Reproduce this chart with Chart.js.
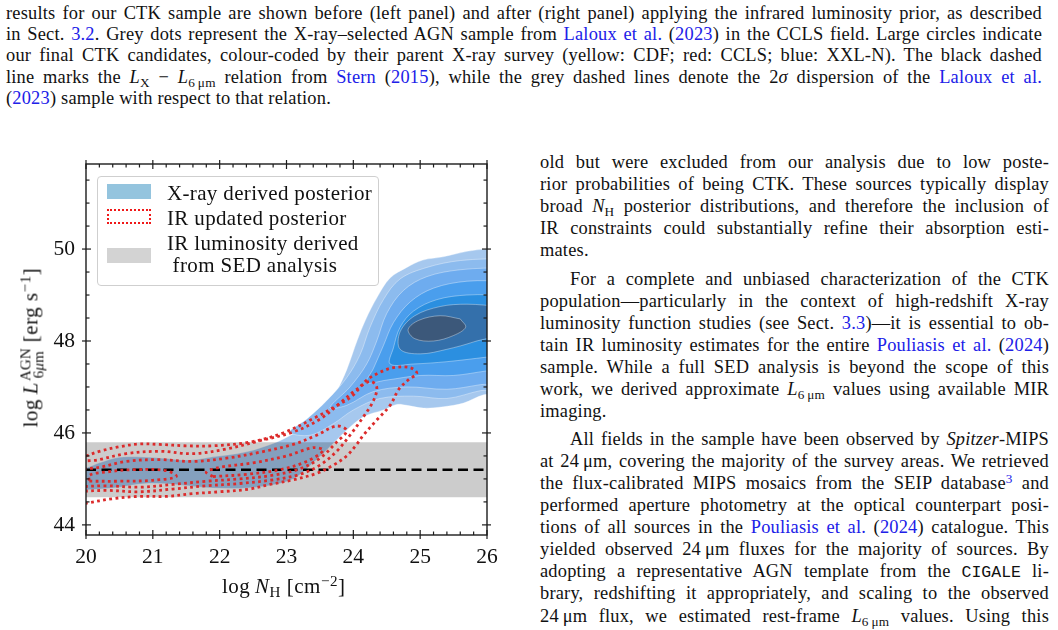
<!DOCTYPE html>
<html>
<head>
<meta charset="utf-8">
<script src="https://cdn.jsdelivr.net/npm/chart.js@4.4.1/dist/chart.umd.min.js"></script>
<style>
  html, body { margin: 0; padding: 0; background: #fff; }
  #page { position: relative; width: 1058px; height: 630px; overflow: hidden;
          font-family: "Liberation Serif", "Times New Roman", serif; color: #111; }
  .ln { position: absolute; font-size: 18.4px; line-height: 22px; height: 22px; white-space: nowrap;
        letter-spacing: 0.2px; text-align: justify; text-align-last: justify; }
  .ln.last { text-align-last: left; }
  .cap { left: 6px; width: 1036px; }
  .col { left: 540px; width: 509px; }
  .col.ind { left: 570px; width: 479px; }
  .a { color: #2020e8; }
  .sb { font-size: 0.72em; position: relative; top: 0.28em; }
  .sp { font-size: 0.72em; position: relative; top: -0.45em; }
  .tt { font-family: "Liberation Mono", monospace; font-size: 16.5px; letter-spacing: 0; }
  #chart { position: absolute; left: 0; top: 140px; }
  #legend { position: absolute; left: 97px; top: 176px; width: 280px; height: 108px;
            border: 1px solid #cfcfcf; border-radius: 4px; background: rgba(255,255,255,0.85);
            font-size: 21px; letter-spacing: 0.35px; }
  #legend .sw { position: absolute; left: 9px; width: 44px; height: 15px; box-sizing: border-box; }
  #legend .tx { position: absolute; left: 69px; line-height: 22px; white-space: nowrap; }
  .axt { position: absolute; font-size: 21px; letter-spacing: 0.5px; white-space: nowrap; line-height: 24px; }
  .stk { display: inline-flex; flex-direction: column; vertical-align: middle;
         font-size: 15px; line-height: 13px; margin-left: 1px; letter-spacing: 0.2px; }
</style>
</head>
<body>
<div id="page">
  <div class="ln cap" style="top:2px">results for our CTK sample are shown before (left panel) and after (right panel) applying the infrared luminosity prior, as described</div>
  <div class="ln cap" style="top:23px">in Sect. <span class="a">3.2</span>. Grey dots represent the X-ray–selected AGN sample from <span class="a">Laloux et al.</span> (<span class="a">2023</span>) in the CCLS field. Large circles indicate</div>
  <div class="ln cap" style="top:44px">our final CTK candidates, colour-coded by their parent X-ray survey (yellow: CDF; red: CCLS; blue: XXL-N). The black dashed</div>
  <div class="ln cap" style="top:66px">line marks the <i>L</i><span class="sb">X</span> − <i>L</i><span class="sb">6&#8201;μm</span> relation from <span class="a">Stern</span> (<span class="a">2015</span>), while the grey dashed lines denote the 2<i>σ</i> dispersion of the <span class="a">Laloux et al.</span></div>
  <div class="ln cap last" style="top:87px">(<span class="a">2023</span>) sample with respect to that relation.</div>

  <div class="ln col" style="top:151px">old but were excluded from our analysis due to low poste-</div>
  <div class="ln col" style="top:173px">rior probabilities of being CTK. These sources typically display</div>
  <div class="ln col" style="top:195px">broad <i>N</i><span class="sb">H</span> posterior distributions, and therefore the inclusion of</div>
  <div class="ln col" style="top:217px">IR constraints could substantially refine their absorption esti-</div>
  <div class="ln col last" style="top:239px">mates.</div>
  <div class="ln col ind" style="top:268px">For a complete and unbiased characterization of the CTK</div>
  <div class="ln col" style="top:290px">population—particularly in the context of high-redshift X-ray</div>
  <div class="ln col" style="top:312px">luminosity function studies (see Sect. <span class="a">3.3</span>)—it is essential to ob-</div>
  <div class="ln col" style="top:334px">tain IR luminosity estimates for the entire <span class="a">Pouliasis et al.</span> (<span class="a">2024</span>)</div>
  <div class="ln col" style="top:356px">sample. While a full SED analysis is beyond the scope of this</div>
  <div class="ln col" style="top:378px">work, we derived approximate <i>L</i><span class="sb">6&#8201;μm</span> values using available MIR</div>
  <div class="ln col last" style="top:400px">imaging.</div>
  <div class="ln col ind" style="top:428px">All fields in the sample have been observed by <i>Spitzer</i>-MIPS</div>
  <div class="ln col" style="top:450px">at 24&#8201;μm, covering the majority of the survey areas. We retrieved</div>
  <div class="ln col" style="top:472px">the flux-calibrated MIPS mosaics from the SEIP database<span class="sp a">3</span> and</div>
  <div class="ln col" style="top:494px">performed aperture photometry at the optical counterpart posi-</div>
  <div class="ln col" style="top:516px">tions of all sources in the <span class="a">Pouliasis et al.</span> (<span class="a">2024</span>) catalogue. This</div>
  <div class="ln col" style="top:538px">yielded observed 24&#8201;μm fluxes for the majority of sources. By</div>
  <div class="ln col" style="top:560px">adopting a representative AGN template from the <span class="tt">CIGALE</span> li-</div>
  <div class="ln col" style="top:582px">brary, redshifting it appropriately, and scaling to the observed</div>
  <div class="ln col" style="top:605px">24&#8201;μm flux, we estimated rest-frame <i>L</i><span class="sb">6&#8201;μm</span> values. Using this</div>
  <div class="ln col" style="top:627px">method we derived IR luminosity estimates for 574 out of 911</div>

  <canvas id="chart" width="510" height="490"></canvas>

  <div id="legend">
    <div class="sw" style="top:7px;background:#94c4de"></div>
    <div class="tx" style="top:5px">X-ray derived posterior</div>
    <div class="sw" style="top:32px;border:2.5px dotted #f01818"></div>
    <div class="tx" style="top:30px">IR updated posterior</div>
    <div class="sw" style="top:71px;background:#d3d3d3"></div>
    <div class="tx" style="top:55px">IR luminosity derived</div>
    <div class="tx" style="top:77px">&nbsp;from SED analysis</div>
  </div>

  <div class="axt" style="left:222px;top:574px">log&#8201;<i>N</i><span class="sb">H</span> [cm<span class="sp">−2</span>]</div>
  <div class="axt" style="left:-68px;top:334px;width:200px;text-align:center;transform:rotate(-90deg)">log&#8201;<i>L</i><span class="stk"><span>AGN</span><span>6<i>μ</i>m</span></span> [erg s<span class="sp">−1</span>]</div>
</div>

<script>
// axes
const xTicks = [20, 21, 22, 23, 24, 25, 26];
const yTicks = [44, 46, 48, 50];
const xMin = 20, xMax = 26;
const yMin = 43.78, yMax = 51.85;

// SED band and Stern relation
const sedBand = [44.6, 45.8];
const sternY = 45.2;

// X-ray posterior, filled density levels (outer -> inner), [logNH, logL]
const blueL1 = [[19.8,45.2],[20.0,45.24],[20.2,45.35],[20.5,45.47],[20.76,45.48],[21.15,45.45],[21.56,45.41],[21.9,45.48],
  [22.4,45.59],[22.85,45.8],[23.1,45.98],[23.35,46.2],[23.6,46.5],[23.76,46.93],[23.9,47.37],[24.06,48.02],[24.18,48.45],
  [24.36,48.96],[24.55,49.37],[24.8,49.6],[25.04,49.76],[25.34,49.83],[25.7,49.95],[26.0,50.0],[26.3,50.0],[26.3,46.9],
  [25.95,46.83],[25.65,46.65],[25.35,46.57],[25.05,46.54],[24.8,46.6],[24.65,46.62],[24.45,46.5],[24.15,46.35],[23.9,46.06],
  [23.65,45.7],[23.4,45.35],[23.15,45.04],[22.9,44.9],[22.4,44.8],[21.9,44.8],[21.4,44.87],[20.9,44.9],[20.4,44.8],[20.0,44.76],[19.8,44.74]];
const blueL2 = [[26.3,49.8],[25.6,49.75],[25.1,49.6],[24.7,49.35],[24.45,48.9],[24.25,48.3],[24.1,47.7],[23.9,47.2],[23.6,46.7],
  [23.3,46.3],[23.05,46.02],[23.35,45.95],[23.7,46.2],[24.0,46.5],[24.4,46.75],[24.9,46.8],[25.4,46.75],[25.9,46.92],[26.3,47.0]];
const blueL3 = [[26.3,49.6],[25.6,49.55],[25.1,49.4],[24.75,49.1],[24.5,48.6],[24.35,48.0],[24.2,47.5],[23.95,47.0],[23.65,46.55],
  [23.9,46.6],[24.3,46.9],[24.8,47.0],[25.4,46.95],[25.9,47.05],[26.3,47.15]];
const blueL4 = [[26.3,49.3],[25.7,49.3],[25.2,49.15],[24.85,48.85],[24.6,48.4],[24.45,47.9],[24.3,47.4],[24.2,47.1],[24.5,47.15],
  [25.0,47.25],[25.5,47.25],[26.0,47.35],[26.3,47.4]];
const blueL5 = [[26.3,49.0],[25.7,49.0],[25.25,48.9],[24.9,48.65],[24.7,48.3],[24.6,47.85],[24.55,47.5],[24.9,47.5],[25.4,47.55],
  [26.0,47.65],[26.3,47.7]];
const blueL6 = [[26.2,48.75],[25.7,48.8],[25.3,48.75],[24.92,48.55],[24.7,48.2],[24.7,47.82],[25.0,47.72],[25.4,47.82],[25.8,47.98],[26.2,48.2]];
const blueL7 = [[25.6,48.48],[25.3,48.55],[24.98,48.45],[24.82,48.25],[24.92,48.05],[25.2,48.0],[25.5,48.12],[25.68,48.3]];

// IR updated posterior, dotted contours
const redR1 = [[19.8,44.42],[20.0,44.47],[20.4,44.57],[20.8,44.62],[21.2,44.62],[21.6,44.68],[22.0,44.72],[22.45,44.78],[22.75,44.88],
  [23.1,44.98],[23.45,45.12],[23.7,45.3],[23.9,45.5],[24.05,45.75],[24.15,45.95],[24.35,46.28],[24.55,46.6],[24.68,46.95],[24.82,47.15],
  [24.95,47.3],[24.85,47.42],[24.6,47.42],[24.4,47.32],[24.2,47.15],[23.98,46.8],[23.76,46.6],[23.45,46.35],[22.95,46.0],[22.45,45.8],
  [21.9,45.72],[21.5,45.72],[21.1,45.75],[20.8,45.76],[20.5,45.7],[20.2,45.6],[20.0,45.5],[19.8,45.4]];
const redR2 = [[19.8,44.72],[20.3,44.75],[20.8,44.72],[21.3,44.78],[21.8,44.85],[22.3,44.9],[22.8,44.98],[23.2,45.1],[23.5,45.3],
  [23.75,45.6],[23.95,45.95],[24.15,46.35],[24.3,46.7],[24.35,47.0],[24.25,47.12],[24.05,46.95],[23.8,46.65],[23.5,46.3],[23.1,46.02],
  [22.6,45.83],[22.1,45.65],[21.6,45.55],[21.1,45.6],[20.6,45.55],[20.2,45.42],[19.8,45.3]];
const redR3 = [[19.8,44.82],[20.3,44.85],[20.8,44.82],[21.3,44.88],[21.8,44.95],[22.3,45.0],[22.8,45.08],[23.2,45.22],[23.5,45.45],
  [23.75,45.8],[23.9,46.05],[23.75,46.15],[23.45,45.95],[23.1,45.75],[22.6,45.58],[22.1,45.45],[21.6,45.38],[21.1,45.42],[20.6,45.38],
  [20.2,45.25],[19.8,45.15]];
const redR4 = [[21.9,45.05],[22.4,45.1],[22.9,45.2],[23.3,45.38],[23.55,45.62],[23.4,45.68],[23.0,45.5],[22.5,45.35],[22.0,45.25],[21.8,45.15]];
const redR5 = [[20.05,44.95],[20.5,44.95],[21.0,44.97],[21.35,45.05],[21.2,45.18],[20.7,45.2],[20.3,45.15],[20.05,45.08]];

const blueColors = ['#a6c8ee', '#8cbbee', '#6eacef', '#4a9eed', '#2b8fe0', '#3470ab', '#3c587a'];

function loop(arr) {
  const pts = arr.map(p => ({ x: p[0], y: p[1] }));
  pts.push({ x: arr[0][0], y: arr[0][1] });
  return pts;
}

const reds = [redR1, redR2, redR3, redR4, redR5].map(r => ({
  data: loop(r), showLine: true, pointRadius: 0, fill: false, tension: 0.35,
  borderColor: '#dc2b2b', borderWidth: 2.8, borderDash: [2.8, 3.4]
}));
const blues = [blueL7, blueL6, blueL5, blueL4, blueL3, blueL2, blueL1].map((b, i) => ({
  data: loop(b), showLine: true, pointRadius: 0, fill: 'shape', tension: 0.35,
  backgroundColor: blueColors[6 - i], borderColor: 'rgba(255,255,255,0.45)', borderWidth: 0.8
}));

const datasets = [
  ...reds,
  { data: [{ x: xMin, y: sternY }, { x: xMax, y: sternY }], showLine: true, pointRadius: 0,
    borderColor: '#000', borderWidth: 2.4, borderDash: [10, 5.5] },
  { data: [{ x: xMin, y: sedBand[1] }, { x: xMax, y: sedBand[1] }], showLine: true, pointRadius: 0,
    borderWidth: 0, fill: { value: sedBand[0] }, backgroundColor: 'rgba(0,0,0,0.2)' },
  ...blues
];

// frame with inward ticks on all four sides
const frameTicks = {
  id: 'frameTicks',
  afterDatasetsDraw(chart) {
    const { ctx, chartArea: a, scales: { x, y } } = chart;
    const seg = (x1, y1, x2, y2) => { ctx.beginPath(); ctx.moveTo(x1, y1); ctx.lineTo(x2, y2); ctx.stroke(); };
    ctx.save();
    ctx.strokeStyle = '#1c1c1c';
    ctx.lineWidth = 1.4;
    ctx.strokeRect(a.left, a.top, a.right - a.left, a.bottom - a.top);
    ctx.lineWidth = 1.2;
    for (let v = xMin; v <= xMax + 1e-6; v += 0.2) {
      const px = x.getPixelForValue(v);
      const major = xTicks.some(t => Math.abs(t - v) < 1e-6);
      const inn = major ? 5 : 3.5, out = major ? 4 : 0;
      seg(px, a.bottom + out, px, a.bottom - inn);
      seg(px, a.top - out, px, a.top + inn);
    }
    for (let v = 44; v <= yMax; v += 0.5) {
      const py = y.getPixelForValue(v);
      const major = yTicks.includes(v);
      const inn = major ? 5 : 3.5, out = major ? 4 : 0;
      seg(a.left - out, py, a.left + inn, py);
      seg(a.right + out, py, a.right - inn, py);
    }
    ctx.restore();
  }
};

const tickFont = { family: 'Liberation Serif', size: 21.5 };

new Chart(document.getElementById('chart'), {
  type: 'scatter',
  data: { datasets: datasets },
  options: {
    responsive: false,
    animation: false,
    events: [],
    layout: { padding: { left: 0, right: 23, top: 24, bottom: 0 } },
    plugins: { legend: { display: false }, tooltip: { enabled: false } },
    scales: {
      x: {
        type: 'linear', min: xMin, max: xMax,
        afterFit: s => { s.height = 95; },
        afterBuildTicks: s => { s.ticks = xTicks.map(v => ({ value: v })); },
        grid: { display: false, drawTicks: false }, border: { display: false },
        ticks: { font: tickFont, color: '#111', padding: 9, maxRotation: 0, autoSkip: false }
      },
      y: {
        type: 'linear', min: yMin, max: yMax,
        afterFit: s => { s.width = 86; },
        afterBuildTicks: s => { s.ticks = yTicks.map(v => ({ value: v })); },
        grid: { display: false, drawTicks: false }, border: { display: false },
        ticks: { font: tickFont, color: '#111', padding: 11, autoSkip: false }
      }
    }
  },
  plugins: [frameTicks]
});
</script>
</body>
</html>
